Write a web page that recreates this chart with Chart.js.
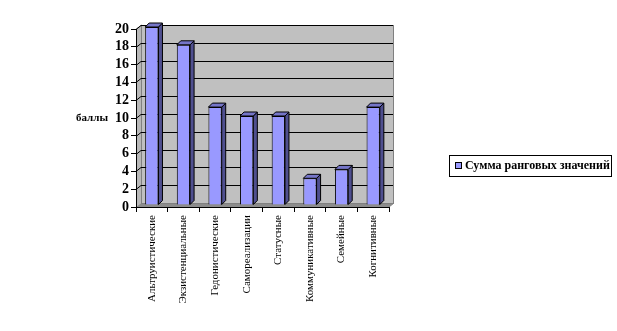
<!DOCTYPE html>
<html>
<head>
<meta charset="utf-8">
<script src="https://cdn.jsdelivr.net/npm/chart.js@4/dist/chart.umd.min.js"></script>
<style>
  html, body { margin: 0; padding: 0; background: #fff; }
  #wrap { width: 617px; height: 331px; }
</style>
</head>
<body>
<div id="wrap"><canvas id="c" width="617" height="331"></canvas></div>
<script>
// Ранги мотивов
const categories = [
  'Альтруистические',
  'Экзистенциальные',
  'Гедонистические',
  'Самореализации',
  'Статусные',
  'Коммуникативные',
  'Семейные',
  'Когнитивные'
];
const values = [20, 18, 11, 10, 10, 3, 4, 11];
const seriesName = 'Сумма ранговых значений';
const axisTitle = 'баллы';
const yMin = 0;
const yMax = 20;
const yStep = 2;

const SERIF = "'Liberation Serif', 'Times New Roman', serif";
const WALL_DX = 5, WALL_DY = 4;   // depth of the 3D walls
const BAR_D = 4;                  // depth of each column
const BAR_LIFT = 2;               // columns stand mid-depth on the floor

// Walls, floor and gridlines of the pseudo-3D plot box
const wallsPlugin = {
  id: 'walls',
  beforeDraw(chart) {
    const { ctx, chartArea: a, scales: { y } } = chart;
    const L = a.left, R = a.right, T = y.getPixelForValue(yMax), B = y.getPixelForValue(yMin);
    ctx.save();
    // back wall
    ctx.fillStyle = '#C0C0C0';
    ctx.fillRect(L + WALL_DX, T - WALL_DY, R - L, B - T);
    // side wall
    ctx.beginPath();
    ctx.moveTo(L, T); ctx.lineTo(L + WALL_DX, T - WALL_DY);
    ctx.lineTo(L + WALL_DX, B - WALL_DY); ctx.lineTo(L, B); ctx.closePath();
    ctx.fillStyle = '#B8B8B8'; ctx.fill();
    // floor
    ctx.beginPath();
    ctx.moveTo(L, B); ctx.lineTo(R, B);
    ctx.lineTo(R + WALL_DX, B - WALL_DY); ctx.lineTo(L + WALL_DX, B - WALL_DY); ctx.closePath();
    ctx.fillStyle = '#8C8C8C'; ctx.fill();
    // wall outline
    ctx.strokeStyle = '#808080'; ctx.lineWidth = 1;
    ctx.strokeRect(L + WALL_DX + 0.5, T - WALL_DY + 0.5, R - L - 1, B - T);
    ctx.beginPath();
    ctx.moveTo(L + 0.5, T); ctx.lineTo(L + WALL_DX + 0.5, T - WALL_DY);
    ctx.moveTo(R, B); ctx.lineTo(R + WALL_DX, B - WALL_DY);
    ctx.stroke();
    // gridlines
    ctx.strokeStyle = '#000'; ctx.lineWidth = 1;
    for (let v = yMin + yStep; v <= yMax; v += yStep) {
      const py = Math.round(y.getPixelForValue(v)) + 0.5;
      ctx.beginPath();
      ctx.moveTo(L, py); ctx.lineTo(L + WALL_DX, py - WALL_DY);
      ctx.lineTo(R + WALL_DX - 1, py - WALL_DY);
      ctx.stroke();
    }
    ctx.restore();
  },
  beforeDatasetsDraw(chart) {
    chart.ctx.save();
    chart.ctx.translate(0, -BAR_LIFT);
  },
  afterDatasetsDraw(chart) {
    const ctx = chart.ctx;
    const meta = chart.getDatasetMeta(0);
    ctx.lineWidth = 1;
    ctx.strokeStyle = '#000';
    meta.data.forEach(bar => {
      const { x, y, width, base } = bar.getProps(['x', 'y', 'width', 'base'], true);
      const l = x - width / 2, r = x + width / 2;
      // side face
      ctx.beginPath();
      ctx.moveTo(r, y); ctx.lineTo(r + BAR_D, y - BAR_D);
      ctx.lineTo(r + BAR_D, base - BAR_D); ctx.lineTo(r, base); ctx.closePath();
      ctx.fillStyle = '#4F4F8F'; ctx.fill(); ctx.stroke();
      // top face
      ctx.beginPath();
      ctx.moveTo(l, y); ctx.lineTo(l + BAR_D, y - BAR_D);
      ctx.lineTo(r + BAR_D, y - BAR_D); ctx.lineTo(r, y); ctx.closePath();
      ctx.fillStyle = '#7575C8'; ctx.fill(); ctx.stroke();
    });
    ctx.restore();
  },
  afterDraw(chart) {
    const { ctx, chartArea: a } = chart;
    ctx.save();
    // axis title, written horizontally beside the value axis
    ctx.fillStyle = '#000';
    ctx.font = 'bold 11px ' + SERIF;
    ctx.textAlign = 'left';
    ctx.textBaseline = 'middle';
    ctx.fillText(axisTitle, 76, (a.top + a.bottom) / 2);
    // legend box
    const lx = 449.5, ly = 155.5, lw = 162, lh = 21;
    ctx.fillStyle = '#fff';
    ctx.fillRect(lx, ly, lw, lh);
    ctx.strokeStyle = '#000';
    ctx.strokeRect(lx, ly, lw, lh);
    ctx.fillStyle = '#9999FF';
    ctx.fillRect(455.5, 162.5, 6, 6);
    ctx.strokeRect(455.5, 162.5, 6, 6);
    ctx.fillStyle = '#000';
    ctx.font = 'bold 12px ' + SERIF;
    ctx.fillText(seriesName, 465, 166);
    ctx.restore();
  }
};

new Chart(document.getElementById('c'), {
  type: 'bar',
  data: {
    labels: categories,
    datasets: [{
      label: seriesName,
      data: values,
      backgroundColor: '#9999FF',
      borderColor: '#000',
      borderWidth: 1,
      barPercentage: 0.42,
      categoryPercentage: 1,
      clip: false
    }]
  },
  options: {
    responsive: false,
    animation: false,
    devicePixelRatio: 1,
    layout: { padding: { top: 29, right: 228, left: 0, bottom: 0 } },
    plugins: { legend: { display: false }, tooltip: { enabled: false } },
    scales: {
      x: {
        offset: true,
        grid: { display: true, drawOnChartArea: false, offset: true, tickLength: 5, color: '#000' },
        border: { color: '#000' },
        ticks: {
          color: '#000',
          font: { family: SERIF, size: 11 },
          minRotation: 90, maxRotation: 90,
          autoSkip: false,
          padding: 3
        },
        afterFit(s) { s.height = 124; }
      },
      y: {
        min: yMin, max: yMax,
        grid: { drawOnChartArea: false, tickLength: 5, color: '#000' },
        border: { color: '#000' },
        ticks: {
          stepSize: yStep,
          autoSkip: false,
          color: '#000',
          font: { family: SERIF, size: 14, weight: 'bold' },
          padding: 2
        },
        afterFit(s) { s.width = 136; }
      }
    }
  },
  plugins: [wallsPlugin]
});
</script>
</body>
</html>
